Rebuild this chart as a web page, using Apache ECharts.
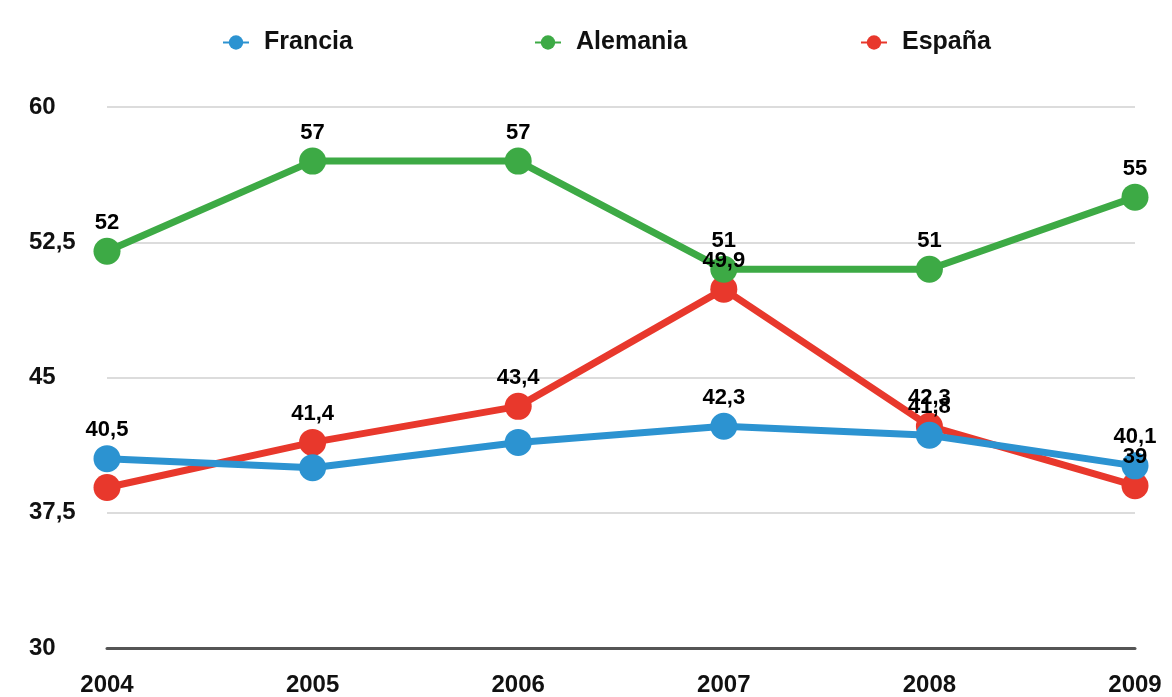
<!DOCTYPE html>
<html><head><meta charset="utf-8">
<script src="https://cdn.jsdelivr.net/npm/echarts@6/dist/echarts.min.js"></script>
<style>html,body{margin:0;padding:0;background:#fff}#c{width:1172px;height:697px}</style>
</head><body><div id="c"></div>
<script>
const years = ['2004','2005','2006','2007','2008','2009'];
const francia = [40.5, 40.0, 41.4, 42.3, 41.8, 40.1];
const alemania = [52, 57, 57, 51, 51, 55];
const espana = [38.9, 41.4, 43.4, 49.9, 42.3, 39];
const yTicks = [30, 37.5, 45, 52.5, 60];

const hiddenLabels = { 'Francia': [1, 2], 'Alemania': [], 'España': [0] };
const colors = { 'Francia': '#2c93d1', 'Alemania': '#3daa45', 'España': '#e8382c' };
const FONT = '"Liberation Sans", Arial, Helvetica, sans-serif';
const fmt = v => String(v).replace('.', ',');

function lineSeries(name, data, z) {
  return {
    name, type: 'line', data, z,
    symbol: 'circle', symbolSize: 27,
    lineStyle: { width: 7, color: colors[name] },
    itemStyle: { color: colors[name] },
    label: { show: false },
    emphasis: { disabled: true }, animation: false
  };
}
function labelSeries(name, data) {
  return {
    name: name + '_lbl', type: 'scatter', z: 20,
    symbolSize: 27, itemStyle: { color: 'rgba(0,0,0,0)', opacity: 1 },
    data: data,
    label: {
      show: true, position: 'top', distance: 4,
      formatter: p => hiddenLabels[name].indexOf(p.dataIndex) < 0 ? fmt(p.value) : '',
      color: '#000', fontSize: 22, fontWeight: 'bold', fontFamily: FONT,
      textBorderWidth: 0, opacity: 1
    },
    emphasis: { disabled: true }, animation: false, silent: true
  };
}
const legendText = { color: '#111', fontSize: 25, fontWeight: 'bold', fontFamily: FONT, padding: [0, 0, 0, 10] };
const legendBase = { top: 25, itemWidth: 26, itemHeight: 18, textStyle: legendText, selectedMode: false };
const chart = echarts.init(document.getElementById('c'));
chart.setOption({
  animation: false,
  color: [colors['Francia'], colors['Alemania'], colors['España']],
  legend: [
    Object.assign({ data: ['Francia'], left: 217 }, legendBase),
    Object.assign({ data: ['Alemania'], left: 529 }, legendBase),
    Object.assign({ data: ['España'], left: 855 }, legendBase)
  ],
  grid: { left: 107, right: 37, top: 107, bottom: 49, containLabel: false },
  xAxis: {
    type: 'category', data: years, boundaryGap: false,
    axisLine: { show: true, lineStyle: { color: '#555', width: 3 } },
    axisTick: { show: false },
    axisLabel: { color: '#111', fontSize: 24, fontWeight: 'bold', fontFamily: FONT, margin: 25 },
    splitLine: { show: false }
  },
  yAxis: {
    type: 'value', min: yTicks[0], max: yTicks[yTicks.length - 1], interval: 7.5,
    axisLine: { show: false }, axisTick: { show: false },
    axisLabel: { color: '#111', fontSize: 24, fontWeight: 'bold', fontFamily: FONT, align: 'left', margin: 78, formatter: v => fmt(v) },
    splitLine: { show: true, lineStyle: { color: '#dcdcdc', width: 2 } }
  },
  series: [
    lineSeries('España', espana, 2),
    lineSeries('Francia', francia, 3),
    lineSeries('Alemania', alemania, 4),
    labelSeries('Francia', francia),
    labelSeries('Alemania', alemania),
    labelSeries('España', espana)
  ]
});
</script></body></html>
